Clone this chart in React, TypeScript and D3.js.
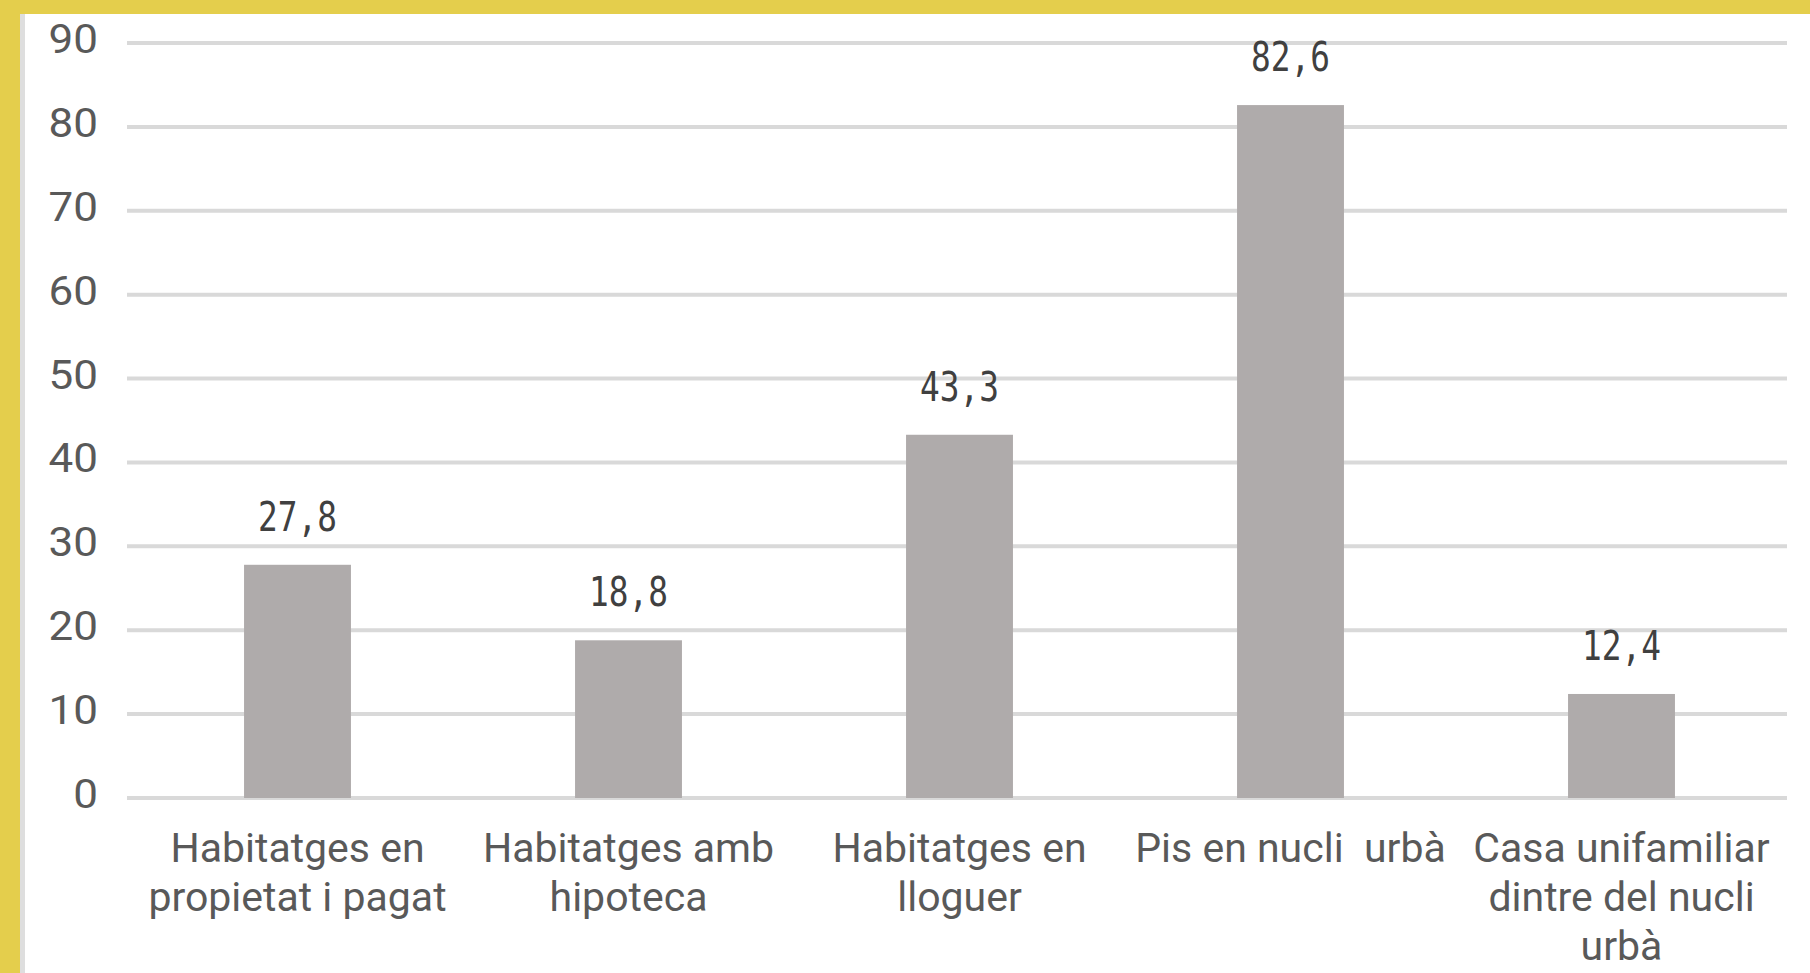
import React, { useRef, useEffect } from 'react';
import * as d3 from 'd3';

const categories: string[][] = [
    ['Habitatges en', 'propietat i pagat'],
    ['Habitatges amb', 'hipoteca'],
    ['Habitatges en', 'lloguer'],
    ['Pis en nucli  urbà'],
    ['Casa unifamiliar', 'dintre del nucli', 'urbà'],
];
const values = [27.8, 18.8, 43.3, 82.6, 12.4];
const valueLabels = ['27,8', '18,8', '43,3', '82,6', '12,4'];
const yTicks = [0, 10, 20, 30, 40, 50, 60, 70, 80, 90];

const App: React.FC = () => {
    const svgRef = useRef<SVGSVGElement | null>(null);
    const width = 1810;
    const height = 973;

    useEffect(() => {
        document.body.style.margin = '0';
        const svg = d3.select(svgRef.current);
        svg.selectAll('*').remove();

        // frame: yellow border on top and left, thin grey strip inside
        svg.append('rect').attr('width', width).attr('height', height).attr('fill', '#ffffff');
        svg.append('rect').attr('x', 0).attr('y', 0).attr('width', width).attr('height', 14).attr('fill', '#e4ce4c');
        svg.append('rect').attr('x', 0).attr('y', 0).attr('width', 20).attr('height', height).attr('fill', '#e4ce4c');
        svg.append('rect').attr('x', 20).attr('y', 14).attr('width', 5).attr('height', height - 14).attr('fill', '#dedede');

        const x = d3.scaleBand<number>()
            .domain(d3.range(values.length))
            .range([132, 1787])
            .paddingInner(0.677)
            .paddingOuter(0.3385);

        const y = d3.scaleLinear()
            .domain([0, 90])
            .range([798, 43]);

        // gridlines
        svg.append('g')
            .selectAll('line')
            .data(yTicks)
            .enter()
            .append('line')
            .attr('x1', 127)
            .attr('x2', 1787)
            .attr('y1', d => y(d))
            .attr('y2', d => y(d))
            .style('stroke', '#d9d9d9')
            .style('stroke-width', '4px');

        // y tick labels
        svg.append('g')
            .selectAll('text')
            .data(yTicks)
            .enter()
            .append('text')
            .attr('transform', d => `translate(98,${y(d) + 10}) scale(1.1,1)`)
            .attr('text-anchor', 'end')
            .style('font-family', 'Roboto, sans-serif')
            .style('font-size', '40px')
            .style('fill', '#595959')
            .text(d => d);

        // bars
        svg.append('g')
            .selectAll('rect')
            .data(values)
            .enter()
            .append('rect')
            .attr('x', (d, i) => x(i) as number)
            .attr('y', d => y(d))
            .attr('width', x.bandwidth())
            .attr('height', d => y(0) - y(d))
            .attr('fill', '#afabab');

        // value labels
        svg.append('g')
            .selectAll('text')
            .data(values)
            .enter()
            .append('text')
            .attr('transform', (d, i) => `translate(${(x(i) as number) + x.bandwidth() / 2},${y(d) - 34}) scale(0.82,1)`)
            .attr('text-anchor', 'middle')
            .style('font-family', '"DejaVu Sans Mono", monospace')
            .style('font-size', '40px')
            .style('fill', '#404040')
            .text((d, i) => valueLabels[i]);

        // category labels
        const cat = svg.append('g')
            .selectAll('g')
            .data(categories)
            .enter()
            .append('g')
            .attr('transform', (d, i) => `translate(${(x(i) as number) + x.bandwidth() / 2},862)`);

        cat.selectAll('text')
            .data(d => d)
            .enter()
            .append('text')
            .attr('y', (d, j) => j * 49)
            .attr('text-anchor', 'middle')
            .style('font-family', 'Roboto, sans-serif')
            .style('font-size', '41px')
            .style('fill', '#595959')
            .style('white-space', 'pre')
            .text(d => d);
    }, []);

    return (
        <div style={{ width, height, overflow: 'hidden' }}>
            <svg ref={svgRef} width={width} height={height} style={{ display: 'block' }}></svg>
        </div>
    );
};

export default App;
